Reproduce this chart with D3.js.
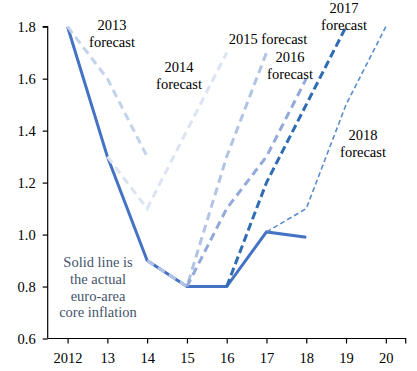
<!DOCTYPE html>
<html>
<head>
<meta charset="utf-8">
<script src="https://cdn.jsdelivr.net/npm/d3@7"></script>
<style>
  body { margin: 0; background: #fff; }
  text { font-family: "Liberation Serif", "Times New Roman", serif; }
</style>
</head>
<body>
<svg id="chart" width="417" height="371"></svg>
<script>
let years = ["2012", "13", "14", "15", "16", "17", "18", "19", "20"];
let yTicks = [0.6, 0.8, 1.0, 1.2, 1.4, 1.6, 1.8];

// actual core inflation
let actual = [["2012", 1.8], ["13", 1.3], ["14", 0.9], ["15", 0.8], ["16", 0.8], ["17", 1.01], ["18", 0.99]];
// forecasts by vintage
let f2013 = [["2012", 1.8], ["13", 1.6], ["14", 1.3]];
let f2014 = [["13", 1.3], ["14", 1.1], ["15", 1.4], ["16", 1.7]];
let f2015 = [["14", 0.9], ["15", 0.8], ["16", 1.3], ["17", 1.7]];
let f2016 = [["15", 0.8], ["16", 1.1], ["17", 1.3], ["18", 1.6]];
let f2017 = [["16", 0.8], ["17", 1.2], ["18", 1.5], ["19", 1.8]];
let f2018 = [["17", 1.01], ["18", 1.1], ["19", 1.5], ["20", 1.8]];

let svg = d3.select("#chart");
let mLeft = 47.7, mRight = 405.7, mTop = 26.7, mBottom = 338.5;

let x = d3.scalePoint().domain(years).range([mLeft, mRight]).padding(0.5);
let y = d3.scaleLinear().domain([0.6, 1.8]).range([mBottom, mTop]);

// axes
let yAxis = svg.append("g")
    .attr("transform", `translate(${mLeft},0)`)
    .call(d3.axisLeft(y).tickValues(yTicks).tickFormat(d3.format(".1f")).tickSize(5).tickPadding(7));
let xAxis = svg.append("g")
    .attr("transform", `translate(0,${mBottom})`)
    .call(d3.axisBottom(x).tickSize(5).tickPadding(9));
xAxis.select(".domain").attr("d", `M${mLeft},0H${mRight}V5`);
yAxis.select(".domain").attr("d", `M-5,${mTop}H0V${mBottom}`);
svg.selectAll(".tick text").attr("font-size", 14.5).attr("fill", "#000")
    .style("font-family", "Liberation Serif, serif");
svg.selectAll(".domain, .tick line").attr("stroke", "#000").attr("stroke-width", 1.2);

let line = d3.line().x(d => x(d[0])).y(d => y(d[1]));

svg.append("path").datum(actual).attr("d", line)
    .attr("fill", "none").attr("stroke", "#4472c4").attr("stroke-width", 3);

let series = [
  {data: f2013, color: "#c3d3eb", w: 3, dash: "8,5"},
  {data: f2014, color: "#dce4f2", w: 3, dash: "8,5"},
  {data: f2015, color: "#b2c4e6", w: 3, dash: "8,5"},
  {data: f2016, color: "#93a9da", w: 3, dash: "8,5"},
  {data: f2017, color: "#2e6db3", w: 3, dash: "8,4"},
  {data: f2018, color: "#5a8dcd", w: 1.6, dash: "5,3"}
];
series.forEach(s => {
  svg.append("path").datum(s.data).attr("d", line)
    .attr("fill", "none").attr("stroke", s.color)
    .attr("stroke-width", s.w).attr("stroke-dasharray", s.dash);
});

// labels
let labels = [
  {lines: ["2013", "forecast"], x: 112, y: 30, color: "#000"},
  {lines: ["2014", "forecast"], x: 179, y: 72, color: "#000"},
  {lines: ["2015 forecast"], x: 268, y: 44, color: "#000"},
  {lines: ["2016", "forecast"], x: 290, y: 62, color: "#000"},
  {lines: ["2017", "forecast"], x: 344, y: 13, color: "#000"},
  {lines: ["2018", "forecast"], x: 363, y: 140, color: "#000"},
  {lines: ["Solid line is", "the actual", "euro-area", "core inflation"], x: 98, y: 267, color: "#44546a"}
];
labels.forEach(l => {
  let t = svg.append("text").attr("text-anchor", "middle")
    .attr("font-size", 14.5).attr("fill", l.color);
  l.lines.forEach((s, i) => {
    t.append("tspan").attr("x", l.x).attr("y", l.y + i * 16.8).text(s);
  });
});
</script>
</body>
</html>
